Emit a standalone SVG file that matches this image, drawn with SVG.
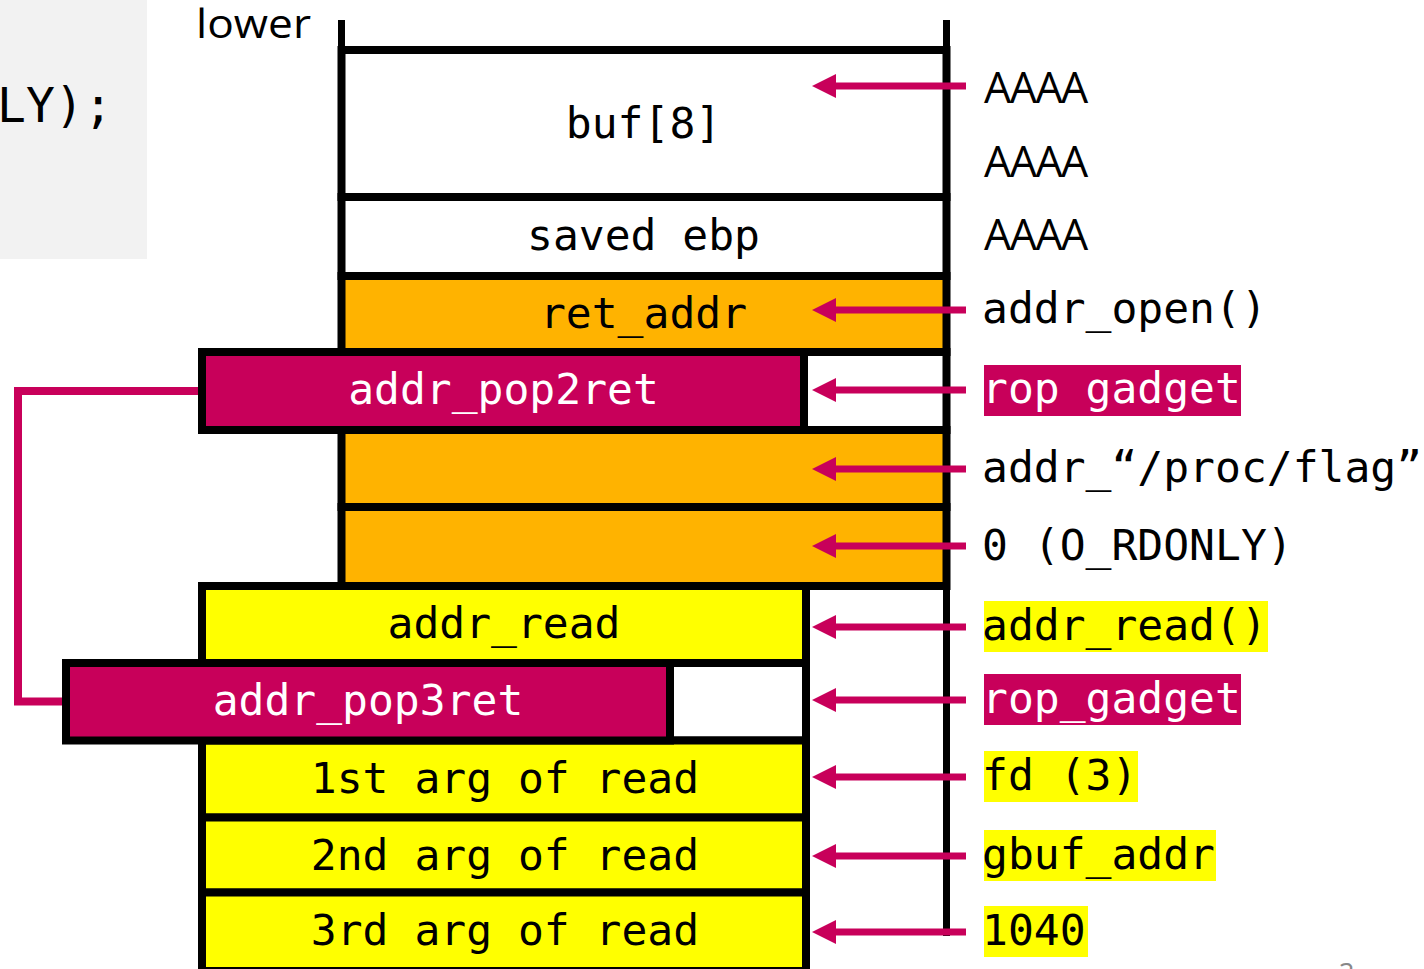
<svg xmlns="http://www.w3.org/2000/svg" width="1424" height="969" viewBox="0 0 1424 969">
  <style>
    .mono { font-family: "DejaVu Sans Mono", "Liberation Mono", monospace; font-size: 43px; }
    .sans { font-family: "Open Sans", "Liberation Sans", sans-serif; }
    .ctr { text-anchor: middle; }
    .cell { stroke: #000; stroke-width: 8; }
    .white { fill: #fff; }
    .orange { fill: #ffb300; }
    .yellow { fill: #ffff00; }
    .magenta { fill: #c8005a; }
    .frame { stroke: #000; stroke-width: 7; fill: none; }
    .arrow { stroke: #c8005a; stroke-width: 7; fill: none; marker-end: url(#ah); }
    .bracket { stroke: #c8005a; stroke-width: 8; fill: none; }
    .ink { fill: #000; }
    .paper { fill: #fff; }
  </style>
  <defs>
    <marker id="ah" markerUnits="userSpaceOnUse" markerWidth="24" markerHeight="24" viewBox="0 0 24 24" refX="14" refY="12" orient="auto">
      <path d="M0,0 L24,12 L0,24 z" fill="#c8005a"/>
    </marker>
  </defs>

  <!-- code snippet panel on the left -->
  <g id="code-panel">
    <rect x="0" y="0" width="147" height="259" fill="#f2f2f2"/>
    <text x="-3" y="122" font-family="DejaVu Sans Mono, Liberation Mono, monospace" font-size="48" fill="#000">LY);</text>
  </g>

  <text id="label-lower" class="sans" x="196" y="38" font-size="41" textLength="115" lengthAdjust="spacingAndGlyphs" fill="#000">lower</text>

  <!-- stack frame outline -->
  <g id="stack-frame">
    <line class="frame" x1="341.5" y1="20" x2="341.5" y2="586"/>
    <line class="frame" x1="946.5" y1="20" x2="946.5" y2="936"/>
  </g>

  <!-- upper stack slots -->
  <g id="slot-buf">
    <rect class="cell white" x="341.5" y="50" width="605" height="147"/>
    <text class="mono ctr ink" x="643.5" y="138">buf[8]</text>
  </g>
  <g id="slot-saved-ebp">
    <rect class="cell white" x="341.5" y="197" width="605" height="79"/>
    <text class="mono ctr ink" x="643.5" y="250">saved ebp</text>
  </g>
  <g id="slot-ret-addr">
    <rect class="cell orange" x="341.5" y="276" width="605" height="76"/>
    <text class="mono ctr ink" x="643.5" y="328">ret_addr</text>
  </g>
  <g id="slot-4">
    <rect class="cell white" x="341.5" y="352" width="605" height="78"/>
  </g>
  <g id="slot-path">
    <rect class="cell orange" x="341.5" y="430" width="605" height="77"/>
  </g>
  <g id="slot-flags">
    <rect class="cell orange" x="341.5" y="507" width="605" height="79"/>
  </g>

  <!-- lower stack slots -->
  <g id="slot-addr-read">
    <rect class="cell yellow" x="202" y="586" width="604" height="77"/>
    <text class="mono ctr ink" x="504" y="638">addr_read</text>
  </g>
  <g id="slot-8">
    <rect class="cell white" x="202" y="663" width="604" height="77.5"/>
  </g>
  <g id="slot-arg1">
    <rect class="cell yellow" x="202" y="740.5" width="604" height="77"/>
    <text class="mono ctr ink" x="505" y="793">1st arg of read</text>
  </g>
  <g id="slot-arg2">
    <rect class="cell yellow" x="202" y="817.5" width="604" height="75"/>
    <text class="mono ctr ink" x="505" y="870">2nd arg of read</text>
  </g>
  <g id="slot-arg3">
    <rect class="cell yellow" x="202" y="892.5" width="604" height="78.5"/>
    <text class="mono ctr ink" x="505" y="945">3rd arg of read</text>
  </g>

  <!-- gadget entries -->
  <g id="gadget-pop2ret">
    <rect class="cell magenta" x="202" y="352" width="602" height="78"/>
    <text class="mono ctr paper" x="503.5" y="404">addr_pop2ret</text>
  </g>
  <g id="gadget-pop3ret">
    <rect class="cell magenta" x="66" y="663" width="604" height="77.5"/>
    <text class="mono ctr paper" x="368" y="715">addr_pop3ret</text>
  </g>

  <!-- payload values -->
  <g id="payload">
    <text class="sans" x="984" y="103" font-size="43" letter-spacing="-1.5" fill="#000">AAAA</text>
    <text class="sans" x="984" y="177" font-size="43" letter-spacing="-1.5" fill="#000">AAAA</text>
    <text class="sans" x="984" y="250" font-size="43" letter-spacing="-1.5" fill="#000">AAAA</text>
    <text class="mono ink" x="982" y="323">addr_open()</text>
    <rect class="magenta" x="984" y="365" width="257" height="51"/>
    <text class="mono paper" x="982" y="403">rop gadget</text>
    <text class="mono ink" x="982" y="482">addr_“/proc/flag”</text>
    <text class="mono ink" x="982" y="560">0 (O_RDONLY)</text>
    <rect class="yellow" x="984" y="601" width="284" height="51"/>
    <text class="mono ink" x="982" y="640">addr_read()</text>
    <rect class="magenta" x="984" y="674" width="257" height="51"/>
    <text class="mono paper" x="982" y="713">rop_gadget</text>
    <rect class="yellow" x="984" y="751" width="154" height="51"/>
    <text class="mono ink" x="982" y="790">fd (3)</text>
    <rect class="yellow" x="984" y="830" width="232" height="51"/>
    <text class="mono ink" x="982" y="869">gbuf_addr</text>
    <rect class="yellow" x="984" y="906" width="104" height="51"/>
    <text class="mono ink" x="982" y="945">1040</text>
  </g>

  <!-- connectors -->
  <g id="connectors">
    <path class="bracket" d="M198,391 H18 V701.5 H62"/>
    <line class="arrow" x1="966" y1="86" x2="822" y2="86"/>
    <line class="arrow" x1="966" y1="310" x2="822" y2="310"/>
    <line class="arrow" x1="966" y1="390" x2="822" y2="390"/>
    <line class="arrow" x1="966" y1="469" x2="822" y2="469"/>
    <line class="arrow" x1="966" y1="546" x2="822" y2="546"/>
    <line class="arrow" x1="966" y1="627" x2="822" y2="627"/>
    <line class="arrow" x1="966" y1="700" x2="822" y2="700"/>
    <line class="arrow" x1="966" y1="777" x2="822" y2="777"/>
    <line class="arrow" x1="966" y1="856" x2="822" y2="856"/>
    <line class="arrow" x1="966" y1="932" x2="822" y2="932"/>
  </g>

  <text id="page-number" class="sans" x="1339" y="983" font-size="27" fill="#888">3</text>
</svg>
